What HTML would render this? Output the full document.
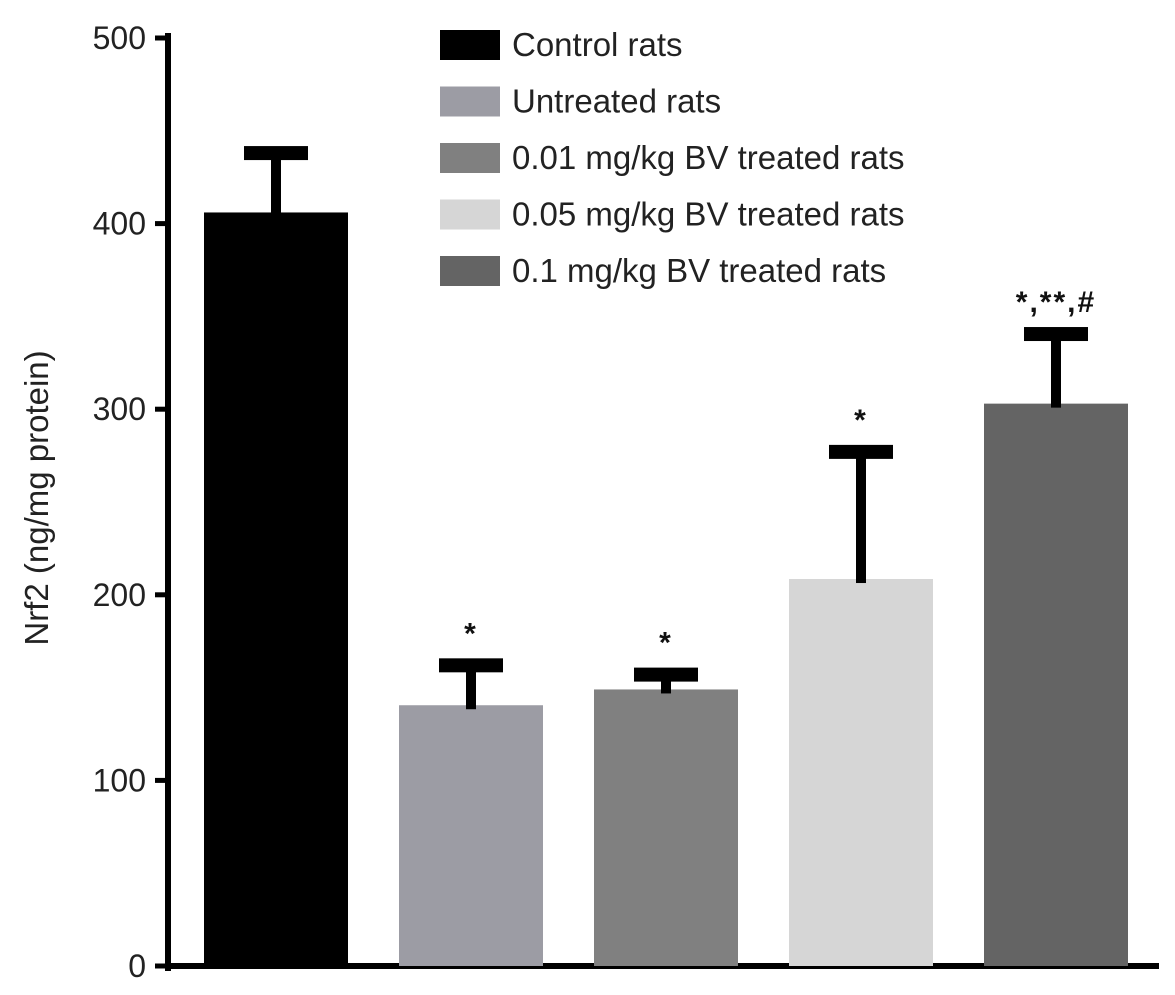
<!DOCTYPE html>
<html><head><meta charset="utf-8"><style>
body{margin:0;background:#fff;}
svg text{font-family:"Liberation Sans",Arial,sans-serif;}
</style></head><body>
<svg id="chart" width="1175" height="990" viewBox="0 0 1175 990" xmlns="http://www.w3.org/2000/svg">
<g id="axes"></g><g id="bars"></g><g id="legend"></g>
</svg>
<script>
const categories = ["Control rats","Untreated rats","0.01 mg/kg BV treated rats","0.05 mg/kg BV treated rats","0.1 mg/kg BV treated rats"];
const values = [406, 140.5, 149, 208.5, 303];
const errors = [32, 21.5, 8, 68.5, 37.5];
const sigLabels = ["", "*", "*", "*", "*,**,#"];
const yTicks = [0, 100, 200, 300, 400, 500];
const colors = ["#000000","#9c9ca4","#808080","#d6d6d6","#646464"];

const NS = "http://www.w3.org/2000/svg";
const y0 = 966, yTop = 38, yMax = 500;
const y = v => y0 - (v / yMax) * (y0 - yTop);
const x = i => 276 + i * 195;
const bw = 144;
function mk(tag, attrs, parent, text){
  const e = document.createElementNS(NS, tag);
  for (const k in attrs) e.setAttribute(k, attrs[k]);
  if (text !== undefined) e.textContent = text;
  parent.appendChild(e); return e;
}
const axes = document.getElementById("axes");
const bars = document.getElementById("bars");
const legend = document.getElementById("legend");

values.forEach((v, i) => {
  const r = mk("rect", {x: x(i) - bw/2, y: y(v), width: bw, height: y0 - y(v), fill: colors[i]}, bars);
  
  
  const top = y(v + errors[i]);
  const s = mk("rect", {x: x(i) - 5, y: top, width: 10, height: y(v) - top + 4, fill: "#000"}, bars);
  
  
  const c = mk("rect", {x: x(i) - 32, y: top - 7, width: 64, height: 14, fill: "#000"}, bars);
  
  
  if (sigLabels[i]) {
    const t = mk("text", {x: x(i), y: top - 22, "text-anchor": "middle", "font-size": 30, "font-weight": "bold", "letter-spacing": 2, fill: "#111"}, bars, sigLabels[i]);
    
    
  }
});

const ya = mk("rect", {x: 165, y: 33, width: 6, height: 938, fill: "#000"}, axes);


const xa = mk("rect", {x: 165, y: 963, width: 994, height: 6, fill: "#000"}, axes);


yTicks.forEach(t => {
  const tk = mk("rect", {x: 155, y: y(t) - 2.5, width: 12, height: 5, fill: "#000"}, axes);
  
  
  const lb = mk("text", {x: 146, y: y(t) + 11, "text-anchor": "end", "font-size": 32, fill: "#222"}, axes, String(t));
  
  
});
const yt = mk("text", {x: 0, y: 0, transform: "translate(48,498) rotate(-90)", "text-anchor": "middle", "font-size": 33, fill: "#222"}, axes, "Nrf2 (ng/mg protein)");



categories.forEach((c, i) => {
  const cy = 45 + i * 56.5;
  const sw = mk("rect", {x: 440, y: cy - 15, width: 60, height: 30, fill: colors[i]}, legend);
  
  
  const lt = mk("text", {x: 512, y: cy + 11, "font-size": 33, fill: "#222"}, legend, c);
  
  
});
</script>
</body></html>
